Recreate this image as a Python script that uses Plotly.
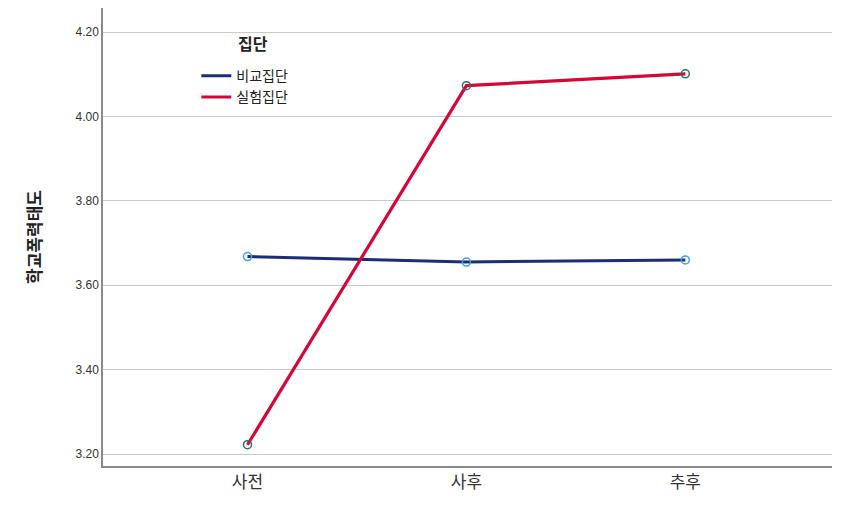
import plotly.graph_objects as go

categories = ["사전", "사후", "추후"]
comparison = [3.668, 3.655, 3.660]
experimental = [3.222, 4.073, 4.101]
y_ticks = [3.20, 3.40, 3.60, 3.80, 4.00, 4.20]

blue_line = "#1c2d78"
red_line = "#d80636"

fig = go.Figure()
fig.add_trace(go.Scatter(
    x=categories, y=comparison, name="비교집단", mode="lines+markers", showlegend=False,
    line=dict(color=blue_line, width=3),
    marker=dict(symbol="circle-open", size=8, color="#3fa0e8", line=dict(width=1.5, color="#3fa0e8")),
))
fig.add_trace(go.Scatter(
    x=categories, y=experimental, name="실험집단", mode="lines+markers", showlegend=False,
    line=dict(color=red_line, width=3.2),
    marker=dict(symbol="circle-open", size=8, color="#2d6e6e", line=dict(width=1.5, color="#2d6e6e")),
))
# legend entries (line only)
fig.add_trace(go.Scatter(x=[None], y=[None], name="비교집단", mode="lines",
                         line=dict(color=blue_line, width=3)))
fig.add_trace(go.Scatter(x=[None], y=[None], name="실험집단", mode="lines",
                         line=dict(color=red_line, width=3)))

font_family = "Liberation Sans, Noto Sans CJK KR, sans-serif"
fig.update_layout(
    width=852, height=505,
    margin=dict(l=95, r=28, t=0, b=47),
    paper_bgcolor="white", plot_bgcolor="white",
    font=dict(family=font_family, color="#222222"),
    showlegend=True,
    legend=dict(
        x=0.128, y=0.886, xanchor="left", yanchor="top",
        font=dict(size=14, family="Noto Sans CJK KR"),
        bgcolor="rgba(0,0,0,0)", tracegroupgap=0, itemwidth=30,
    ),
    annotations=[dict(
        text="<b>집단</b>", x=0.206, y=0.924, xref="paper", yref="paper",
        xanchor="center", yanchor="middle", showarrow=False,
        font=dict(size=16, family="Noto Sans CJK KR", color="#222222"),
    )],
    xaxis=dict(
        type="category", range=[-0.66, 2.67],
        showgrid=False, showline=True, linecolor="#8a8a8a", linewidth=1.5,
        ticks="", tickfont=dict(size=17, family="Noto Sans CJK KR", color="#333333"),
        zeroline=False,
    ),
    yaxis=dict(
        range=[3.1716, 4.257], tickvals=y_ticks, ticktext=[f"{v:.2f}" for v in y_ticks],
        showgrid=True, gridcolor="#c8c8c8", gridwidth=1,
        showline=True, linecolor="#8a8a8a", linewidth=1.5,
        ticks="", tickfont=dict(size=12, color="#333333"),
        zeroline=False,
        title=dict(text="<b>학교폭력태도</b>", font=dict(size=17, family="Noto Sans CJK KR"), standoff=30),
    ),
)

fig.write_html("out.html")
